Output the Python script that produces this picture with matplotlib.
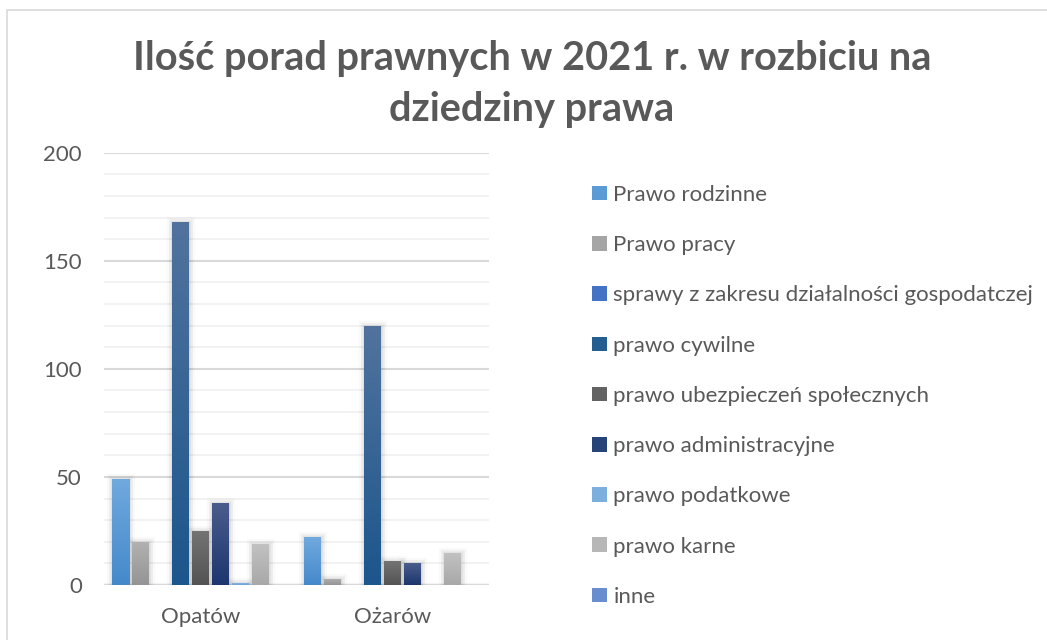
import numpy as np
import matplotlib
matplotlib.use("Agg")
import matplotlib.pyplot as plt
from matplotlib.colors import LinearSegmentedColormap
from matplotlib.patches import Rectangle, Patch
import matplotlib.patheffects as pe

plt.rcParams['font.family'] = ['Lato', 'DejaVu Sans']

title_lines = ["Ilość porad prawnych w 2021 r. w rozbiciu na", "dziedziny prawa"]
categories = ["Opatów", "Ożarów"]
series_names = [
    "Prawo rodzinne",
    "Prawo pracy",
    "sprawy z zakresu działalności gospodatczej",
    "prawo cywilne",
    "prawo ubezpieczeń społecznych",
    "prawo administracyjne",
    "prawo podatkowe",
    "prawo karne",
    "inne",
]
values = [
    [49, 22],
    [20, 3],
    [0, 0],
    [168, 120],
    [25, 11],
    [38, 10],
    [1, 0],
    [19, 15],
    [0, 0],
]
colors_mid = ["#5b9bd5", "#a5a5a5", "#4472c4", "#255e91", "#636363",
              "#264478", "#7cafdd", "#b7b7b7", "#698ed0"]
colors_top = ["#70a9de", "#b2b2b2", "#5a84cf", "#52739e", "#747474",
              "#4b5d8c", "#8dbbe3", "#c2c2c2", "#7d9dd8"]
colors_bot = ["#4589cb", "#949494", "#3964b6", "#1b568c", "#535353",
              "#1d366f", "#6aa2d6", "#a8a8a8", "#587fc6"]
yticks = [0, 50, 100, 150, 200]

W, H = 1047, 640
fig = plt.figure(figsize=(W / 100, H / 100), dpi=100)

# chart border
fig.patches.append(Rectangle((7 / W, -0.1), 1.2, 1 - 10 / H + 0.1,
                             transform=fig.transFigure, fill=False,
                             edgecolor="#d9d9d9", linewidth=1.2))

ax = fig.add_axes([104 / W, (H - 585) / H, 385 / W, 432.3 / H])

n = len(series_names)
slot = 20 / 192.5
bw = 17 / 192.5
x = np.arange(len(categories))
shadow = [pe.Stroke(linewidth=8, foreground="#000000", alpha=0.025),
          pe.Stroke(linewidth=5, foreground="#000000", alpha=0.04),
          pe.Stroke(linewidth=2.5, foreground="#000000", alpha=0.05),
          pe.Normal()]
containers = []
for i in range(n):
    off = (i - (n - 1) / 2) * slot
    bars = ax.bar(x + off, values[i], width=bw, color=colors_mid[i],
                  label=series_names[i], zorder=3, linewidth=0)
    containers.append(bars)

grad = np.linspace(0, 1, 256).reshape(-1, 1)
for i, bars in enumerate(containers):
    cmap = LinearSegmentedColormap.from_list("g%d" % i, [colors_bot[i], colors_top[i]])
    for rect in bars:
        h = rect.get_height()
        if h <= 0:
            continue
        rect.set_path_effects(shadow)
        x0, y0, w = rect.get_x(), rect.get_y(), rect.get_width()
        im = ax.imshow(grad, extent=[x0, x0 + w, y0, y0 + h], origin="lower",
                       cmap=cmap, aspect="auto", zorder=4, interpolation="bilinear")
        im.set_clip_path(rect)

ax.set_xlim(-0.5, 1.5)
ax.set_ylim(0, 200)
ax.set_yticks(yticks)
ax.set_yticks(np.arange(0, 201, 10), minor=True)
ax.set_xticks(x)
ax.set_xticklabels(categories)
ax.grid(axis="y", which="major", color="#d9d9d9", linewidth=1.5, zorder=0)
ax.grid(axis="y", which="minor", color="#f0f0f0", linewidth=1.2, zorder=0)
ax.axhline(0, color="#d9d9d9", linewidth=2.5, zorder=2)
for s in ax.spines.values():
    s.set_visible(False)
ax.tick_params(axis="both", which="both", length=0, labelsize=16, labelcolor="#595959")
ax.tick_params(axis="y", pad=16)
ax.tick_params(axis="x", pad=16)

fig.text(532 / W, 1 - 70 / H, title_lines[0], ha="center", va="baseline",
         fontsize=28.6, fontweight="bold", color="#595959")
fig.text(532 / W, 1 - 121 / H, title_lines[1], ha="center", va="baseline",
         fontsize=28.6, fontweight="bold", color="#595959")

handles = [Patch(facecolor=colors_mid[i], edgecolor="none") for i in range(n)]
leg = fig.legend(handles, series_names, loc="upper left",
                 bbox_to_anchor=(592 / W, 1 - 185 / H), frameon=False,
                 fontsize=16, handlelength=0.68, handleheight=0.63,
                 handletextpad=0.28, labelspacing=1.36, borderaxespad=0, borderpad=0)
for t in leg.get_texts():
    t.set_color("#595959")

fig.savefig("out.png", dpi=100)
